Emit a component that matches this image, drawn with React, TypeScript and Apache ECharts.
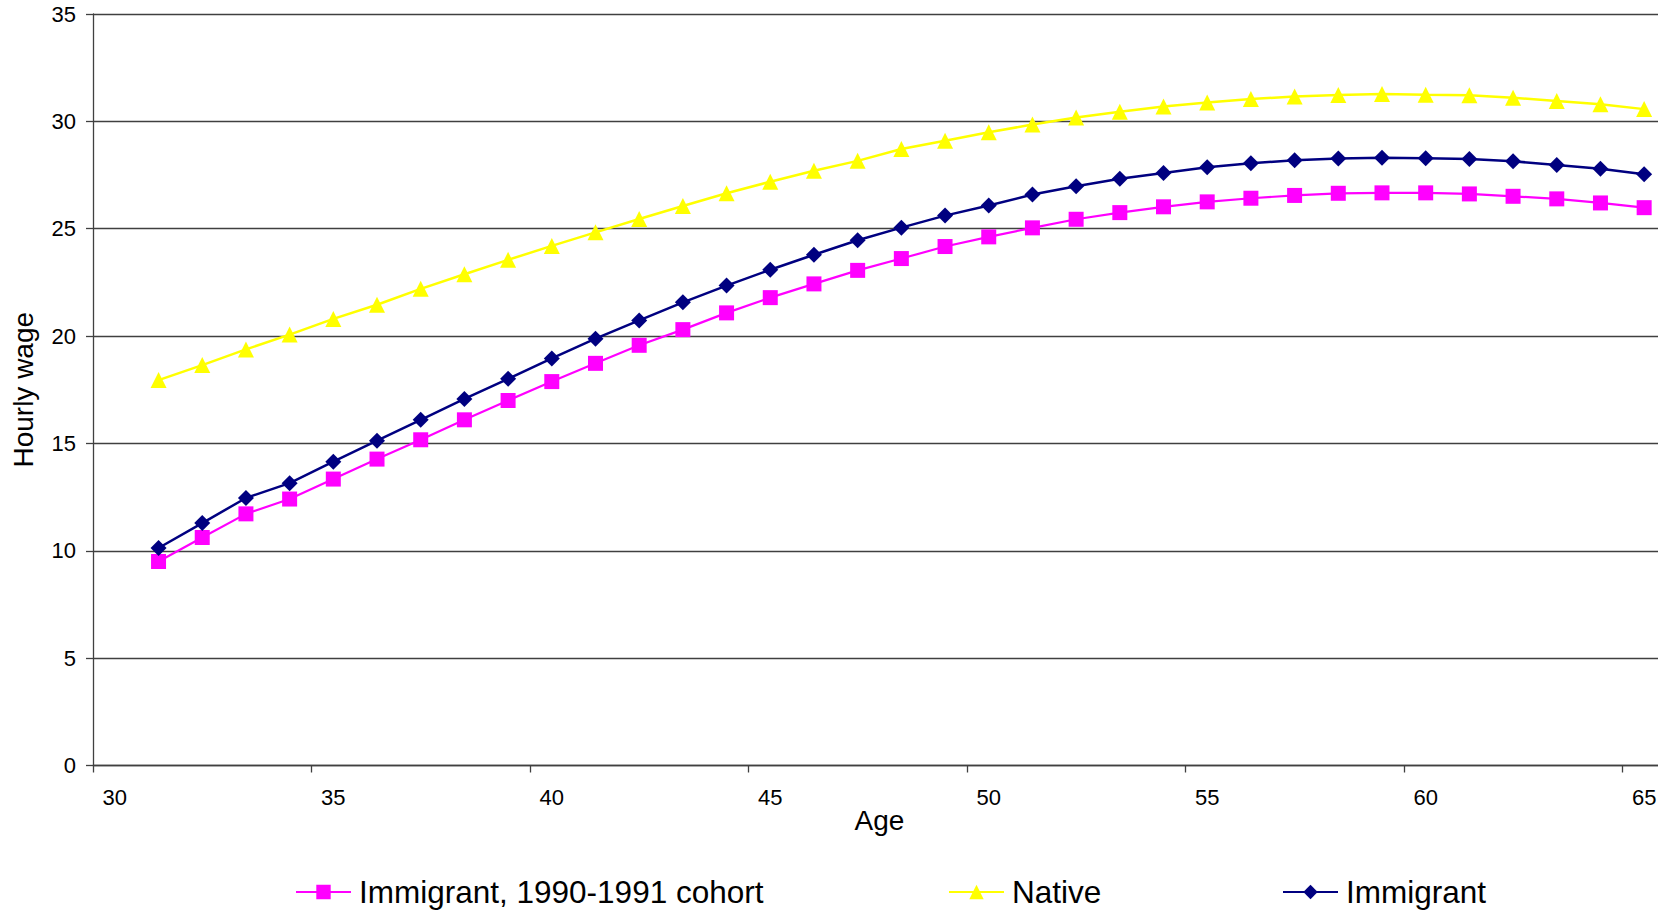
import React, { useEffect, useRef } from "react";
import * as echarts from "echarts";

const ages = [
  "30", "31", "32", "33", "34", "35", "36", "37", "38", "39", "40", "41", "42", "43", "44", "45", "46", "47",
  "48", "49", "50", "51", "52", "53", "54", "55", "56", "57", "58", "59", "60", "61", "62", "63", "64", "65",
];

// values for ages 30..65 (no observation at 30)
const cohort9091 = [
  null, 9.5, 10.62, 11.72, 12.41, 13.34, 14.27, 15.17, 16.1, 17.0, 17.88, 18.73, 19.57, 20.3, 21.08, 21.79,
  22.43, 23.06, 23.61, 24.17, 24.62, 25.04, 25.44, 25.75, 26.02, 26.25, 26.42, 26.55, 26.65, 26.67, 26.67,
  26.62, 26.51, 26.39, 26.2, 25.98,
];
const native = [
  null, 17.95, 18.65, 19.38, 20.07, 20.8, 21.46, 22.2, 22.88, 23.55, 24.2, 24.83, 25.45, 26.06, 26.65, 27.19,
  27.7, 28.16, 28.71, 29.1, 29.49, 29.85, 30.18, 30.45, 30.69, 30.88, 31.04, 31.16, 31.23, 31.27, 31.24,
  31.22, 31.1, 30.95, 30.8, 30.57,
];
const immigrant = [
  null, 10.13, 11.29, 12.46, 13.15, 14.15, 15.13, 16.1, 17.07, 18.01, 18.96, 19.88, 20.73, 21.57, 22.35, 23.09,
  23.79, 24.46, 25.05, 25.61, 26.08, 26.59, 26.98, 27.33, 27.6, 27.86, 28.05, 28.19, 28.27, 28.31, 28.28,
  28.25, 28.14, 27.97, 27.79, 27.54,
];

const seriesNames = ["Immigrant, 1990-1991 cohort", "Native", "Immigrant"];

const FONT = '"Liberation Sans", Arial, sans-serif';
const GRID = "#404040";

export default function App() {
  const ref = useRef<HTMLDivElement>(null);
  useEffect(() => {
    document.body.style.margin = "0";
    if (!ref.current) return;
    const chart = echarts.init(ref.current, null, { renderer: "svg" });
    const legendBase = {
      orient: "horizontal",
      top: 876,
      padding: 0,
      itemWidth: 55,
      itemHeight: 18,
      textStyle: { fontSize: 31.5, color: "#000", fontFamily: FONT, padding: [0, 0, 0, 3] },
    };
    chart.setOption({
      animation: false,
      backgroundColor: "#fff",
      textStyle: { fontFamily: FONT },
      grid: {
        left: 93,
        width: 1573,
        top: 14,
        height: 751.5,
        containLabel: false,
        outerBoundsMode: "none",
      },
      legend: [
        { ...legendBase, left: 295, data: [seriesNames[0]] },
        { ...legendBase, left: 948, data: [seriesNames[1]] },
        { ...legendBase, left: 1282, data: [seriesNames[2]] },
      ],
      xAxis: {
        type: "category",
        data: ages,
        boundaryGap: true,
        name: "Age",
        nameLocation: "middle",
        nameGap: 41,
        nameMoveOverlap: false,
        nameTextStyle: { fontSize: 28, color: "#000", fontFamily: FONT },
        axisLine: { lineStyle: { color: GRID, width: 1.3 } },
        axisTick: { show: true, interval: 4, length: 7, lineStyle: { color: GRID, width: 1.3 } },
        axisLabel: { interval: 4, fontSize: 22, color: "#000", margin: 21, fontFamily: FONT },
        splitLine: { show: false },
      },
      yAxis: {
        type: "value",
        min: 0,
        max: 35,
        interval: 5,
        name: "Hourly wage",
        nameLocation: "middle",
        nameRotate: 90,
        nameGap: 56,
        nameTextStyle: { fontSize: 28, color: "#000", fontFamily: FONT },
        axisLine: { show: true, lineStyle: { color: GRID, width: 1.3 } },
        axisTick: { show: true, length: 7, lineStyle: { color: GRID, width: 1.3 } },
        axisLabel: { fontSize: 22, color: "#000", margin: 17, fontFamily: FONT },
        splitLine: { show: true, lineStyle: { color: GRID, width: 1.3 } },
      },
      series: [
        {
          name: seriesNames[0],
          type: "line",
          data: cohort9091,
          symbol: "rect",
          symbolSize: 15,
          showAllSymbol: true,
          lineStyle: { color: "#FF00FF", width: 2.2 },
          itemStyle: { color: "#FF00FF" },
        },
        {
          name: seriesNames[1],
          type: "line",
          data: native,
          symbol: "triangle",
          symbolSize: 16,
          showAllSymbol: true,
          lineStyle: { color: "#FFFF00", width: 2.5 },
          itemStyle: { color: "#FFFF00" },
        },
        {
          name: seriesNames[2],
          type: "line",
          data: immigrant,
          symbol: "diamond",
          symbolSize: 16,
          showAllSymbol: true,
          lineStyle: { color: "#000080", width: 2.5 },
          itemStyle: { color: "#000080" },
        },
      ],
    });
    return () => chart.dispose();
  }, []);
  return <div ref={ref} style={{ width: 1658, height: 913 }} />;
}
